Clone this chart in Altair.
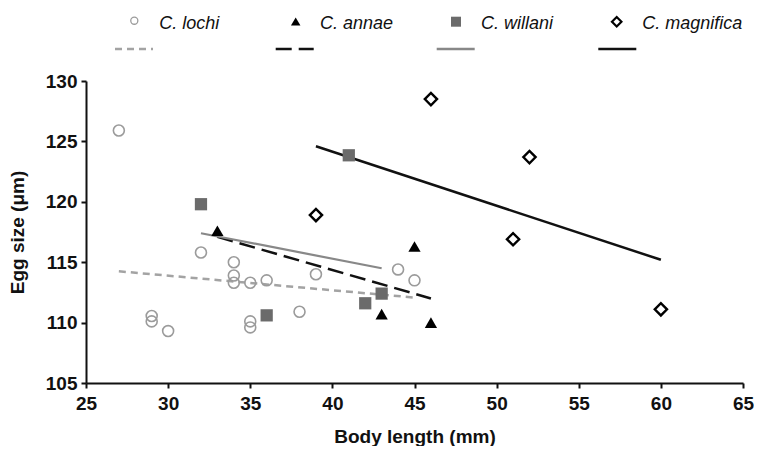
import altair as alt
import pandas as pd

species = ["C. lochi", "C. annae", "C. willani", "C. magnifica"]

lochi_x = [27, 32, 34, 34, 34, 35, 36, 39, 29, 29, 30, 38, 35, 35, 44, 45]
lochi_y = [125.9, 115.8, 115.0, 113.9, 113.3, 113.3, 113.5, 114.0, 110.55, 110.1, 109.3, 110.9, 110.1, 109.6, 114.4, 113.5]
annae_x = [33, 45, 43, 46]
annae_y = [117.6, 116.3, 110.7, 110.0]
willani_x = [32, 36, 41, 43, 42]
willani_y = [119.8, 110.6, 123.85, 112.4, 111.6]
magnifica_x = [39, 46, 52, 51, 60]
magnifica_y = [118.9, 128.5, 123.7, 116.9, 111.1]

# fitted regression lines: start/end
fit_x = [[27, 45], [33, 46], [32, 43], [39, 60]]
fit_y = [[114.25, 112.07], [117.1, 112.0], [117.4, 114.5], [124.6, 115.2]]

xs = [lochi_x, annae_x, willani_x, magnifica_x]
ys = [lochi_y, annae_y, willani_y, magnifica_y]

pts = pd.concat([pd.DataFrame({"species": s, "x": xv, "y": yv}) for s, xv, yv in zip(species, xs, ys)])
fits = pd.concat([pd.DataFrame({"species": s, "x": xv, "y": yv}) for s, xv, yv in zip(species, fit_x, fit_y)])

FONT = "Liberation Sans"

x_enc = alt.X("x:Q", scale=alt.Scale(domain=[25, 65], nice=False, zero=False),
              axis=alt.Axis(values=list(range(25, 70, 5)), title="Body length (mm)", grid=False,
                            labelFlush=False, labelOverlap=False, labelFont=FONT, labelFontWeight="bold",
                            labelFontSize=19, labelColor="#111", labelPadding=6,
                            titleFont=FONT, titleFontWeight="bold", titleFontSize=19, titleColor="#111",
                            titlePadding=14, domainColor="#111", domainWidth=2, tickColor="#111",
                            tickWidth=2, tickSize=5))
y_enc = alt.Y("y:Q", scale=alt.Scale(domain=[105, 130], nice=False, zero=False),
              axis=alt.Axis(values=list(range(105, 135, 5)), title="Egg size (μm)", grid=False,
                            labelFlush=False, labelOverlap=False, labelFont=FONT, labelFontWeight="bold",
                            labelFontSize=19, labelColor="#111", labelPadding=4,
                            titleFont=FONT, titleFontWeight="bold", titleFontSize=19, titleColor="#111",
                            titlePadding=18, domainColor="#111", domainWidth=2, tickColor="#111",
                            tickWidth=2, tickSize=5))

line_styles = [
    dict(color="#a3a3a3", strokeDash=[7, 5], strokeWidth=2.5),
    dict(color="#111111", strokeDash=[16, 7], strokeWidth=2.5),
    dict(color="#888888", strokeWidth=2.2),
    dict(color="#111111", strokeWidth=2.5),
]
point_styles = [
    dict(shape="circle", filled=False, color="#9b9b9b", strokeWidth=1.6, size=120, opacity=1),
    dict(shape="triangle-up", filled=True, color="#000000", size=150, opacity=1),
    dict(shape="square", filled=True, color="#6b6b6b", size=150, opacity=1),
    dict(shape="diamond", filled=False, color="#000000", strokeWidth=2.4, size=150, opacity=1),
]
legend_point_styles = [
    dict(shape="circle", filled=False, color="#9b9b9b", strokeWidth=1.3, size=50, opacity=1),
    dict(shape="triangle-up", filled=True, color="#000000", size=90, opacity=1),
    dict(shape="square", filled=True, color="#6b6b6b", size=100, opacity=1),
    dict(shape="diamond", filled=False, color="#000000", strokeWidth=2.2, size=90, opacity=1),
]

layers = []
for s, ls in zip(species, line_styles):
    layers.append(alt.Chart(fits).transform_filter(alt.datum.species == s)
                  .mark_line(**ls).encode(x=x_enc, y=y_enc))
for s, ps in zip(species, point_styles):
    layers.append(alt.Chart(pts).transform_filter(alt.datum.species == s)
                  .mark_point(**ps).encode(x=x_enc, y=y_enc))

# legend (plot-relative pixel layout)
one = alt.Data(values=[{"a": 1}])
ox, oy = 86, 81
sym_x = [134.3, 295.7, 456, 616.7]
sym_y = [20.7, 21.5, 21.7, 21.7]
txt_x = [159.3, 320, 481, 642.3]
ln_x = [115, 275.7, 436.7, 598.3]
for i, s in enumerate(species):
    layers.append(alt.Chart(one).mark_point(**legend_point_styles[i]).encode(
        x=alt.value(sym_x[i] - ox), y=alt.value(sym_y[i] - oy)))
    layers.append(alt.Chart(one).mark_text(align="left", baseline="middle", font=FONT, fontStyle="italic",
                                           fontSize=18, color="#111").encode(
        x=alt.value(txt_x[i] - ox), y=alt.value(24 - oy), text=alt.value(s)))
    lst = dict(line_styles[i])
    lst["strokeWidth"] = 2.6
    layers.append(alt.Chart(one).mark_rule(**lst).encode(
        x=alt.value(ln_x[i] - ox), x2=alt.value(ln_x[i] + 38 - ox), y=alt.value(49 - oy)))

chart = alt.layer(*layers).properties(
    width=657, height=302,
    autosize=alt.AutoSizeParams(type="none"),
    padding={"left": 78, "top": 73, "right": 11, "bottom": 63},
    background="white",
).configure_view(strokeWidth=0)

chart.save("out.html", embed_options={"renderer": "svg", "actions": False})
